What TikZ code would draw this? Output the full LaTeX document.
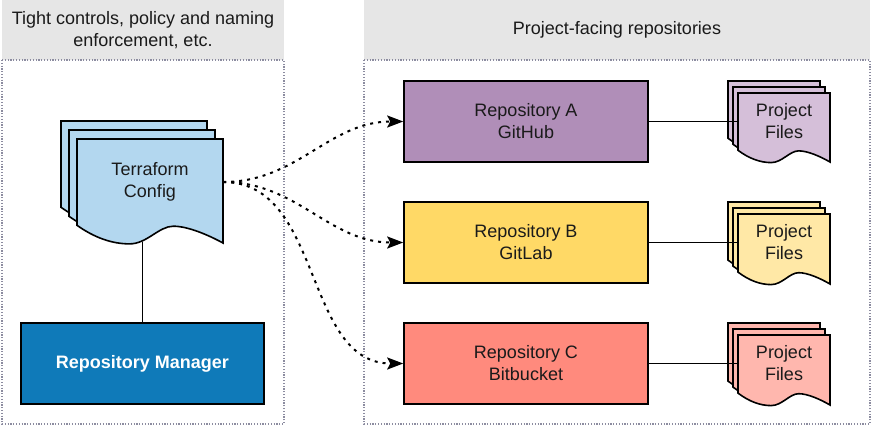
\documentclass[tikz,border=0pt]{standalone}
\usepackage{fontspec}
\setmainfont{Liberation Sans}
\usetikzlibrary{arrows.meta}
\definecolor{hdrgray}{HTML}{E6E6E6}
\definecolor{dotgray}{HTML}{8C8CA0}
\definecolor{tfblue}{HTML}{B3D7EF}
\definecolor{mgrblue}{HTML}{0F7AB9}
\definecolor{repoA}{HTML}{B08EB8}
\definecolor{filesA}{HTML}{D5BFD9}
\definecolor{repoB}{HTML}{FFD966}
\definecolor{filesB}{HTML}{FFE8A6}
\definecolor{repoC}{HTML}{FF8A7D}
\definecolor{filesC}{HTML}{FFB7AE}
\definecolor{txt}{HTML}{1A1A1A}
\newcommand{\mydoc}[5]{%
 \pgfmathsetmacro\mydw{#3-#1}\pgfmathsetmacro\mydd{0.17*(#4-#2)}%
 \draw[#5] (#1,#2) -- (#3,#2) -- (#3,#4)
   .. controls ({#1+0.9*\mydw},{#4-0.45*\mydd}) and ({#1+0.76*\mydw},{#4-0.95*\mydd}) .. ({#1+0.66*\mydw},{#4-0.95*\mydd})
   .. controls ({#1+0.56*\mydw},{#4-0.95*\mydd}) and ({#1+0.48*\mydw},{#4+0.05*\mydd}) .. ({#1+0.36*\mydw},{#4+0.05*\mydd})
   .. controls ({#1+0.24*\mydw},{#4+0.05*\mydd}) and ({#1+0.12*\mydw},{#4-0.3*\mydd}) .. (#1,{#4-\mydd}) -- cycle;}
\begin{document}
\begin{tikzpicture}[x=1pt,y=-1pt,
  every node/.style={font=\fontsize{18}{22}\selectfont, text=txt, align=center},
  hdr/.style={fill=hdrgray, inner sep=0pt},
  dotbox/.style={draw=dotgray, line width=1.2pt, dash pattern=on 1.2pt off 1.6pt},
  outl/.style={draw=black, line width=1.6pt},
  repo/.style={outl, minimum width=244pt, minimum height=81pt, inner sep=0pt},
  docmark/.style={minimum width=92pt, minimum height=60pt, inner sep=0pt},
  conn/.style={draw=black, line width=1.8pt},
  dotarrow/.style={draw=black, line width=2pt, dash pattern=on 3pt off 5pt,
     -{Stealth[length=16pt,width=12pt,inset=3pt]}}
]
\useasboundingbox (0,0) rectangle (871,426);
% headers
\node[hdr, minimum width=282pt, minimum height=60pt] (hl) at (143,30) {Tight controls, policy and naming\\enforcement, etc.};
\node[hdr, minimum width=506pt, minimum height=60pt] (hr) at (617,30) {Project-facing repositories};
\draw[dotbox] (2,60) rectangle (284,424);
\draw[dotbox] (364,60) rectangle (870,424);
% terraform config stack
\mydoc{61}{121}{207}{225}{outl, fill=tfblue}
\mydoc{69}{130}{215}{234}{outl, fill=tfblue}
\mydoc{77}{139}{223}{243}{outl, fill=tfblue}
\node[minimum width=146pt, inner sep=0pt] (tf) at (150,182) {Terraform\\Config};
% repository manager
\node[outl, fill=mgrblue, minimum width=243pt, minimum height=81pt, inner sep=0pt,
      text=white, font=\fontsize{18}{22}\selectfont\bfseries] (mgr) at (142.5,363.5) {Repository Manager};
\coordinate (tfb) at (142.5,242);
\draw[conn] (tfb) -- (mgr.north);
% repositories
\node[repo, fill=repoA] (ra) at (526,121.5) {Repository A\\GitHub};
\node[repo, fill=repoB] (rb) at (526,242.5) {Repository B\\GitLab};
\node[repo, fill=repoC] (rc) at (526,363.5) {Repository C\\Bitbucket};
% project files
\mydoc{728}{81}{820}{150}{outl, fill=filesA}
\mydoc{733}{87}{825}{156}{outl, fill=filesA}
\mydoc{738}{93}{830}{162}{outl, fill=filesA}
\node[docmark] (fa) at (784,121) {Project\\Files};
\mydoc{728}{202}{820}{272}{outl, fill=filesB}
\mydoc{733}{208}{825}{278}{outl, fill=filesB}
\mydoc{738}{214}{830}{284}{outl, fill=filesB}
\node[docmark] (fb) at (784,242) {Project\\Files};
\mydoc{728}{323}{820}{393}{outl, fill=filesC}
\mydoc{733}{329}{825}{399}{outl, fill=filesC}
\mydoc{738}{335}{830}{405}{outl, fill=filesC}
\node[docmark] (fc) at (784,363) {Project\\Files};
\draw[conn] (ra.east) -- (ra.east -| fa.west);
\draw[conn] (rb.east) -- (rb.east -| fb.west);
\draw[conn] (rc.east) -- (rc.east -| fc.west);
% dotted arrows
\draw[dotarrow] (tf.east) to[out=0,in=180] (ra.west);
\draw[dotarrow] (tf.east) to[out=0,in=180] (rb.west);
\draw[dotarrow] (tf.east) to[out=0,in=180] (rc.west);
\end{tikzpicture}
\end{document}
